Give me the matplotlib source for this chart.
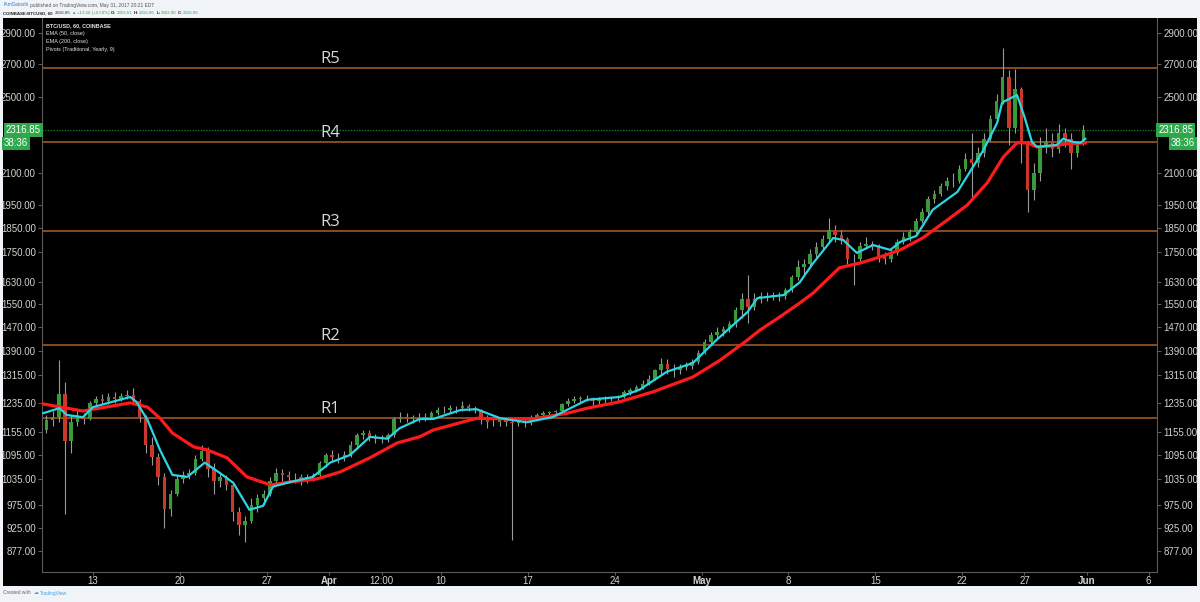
import numpy as np
import pandas as pd
import matplotlib
matplotlib.use("Agg")
import matplotlib.pyplot as plt
import matplotlib.dates as mdates
import matplotlib.ticker as mticker
from matplotlib.patches import Rectangle

plt.rcParams["font.family"] = ["Liberation Sans", "DejaVu Sans"]

# BTC/USD Coinbase, 12h candles, 9 Mar - 31 May 2017
candle_start = "2017-03-09 06:00"
first_open = 1160
highs = [1200, 1210, 1362, 1295, 1200, 1210, 1205, 1240, 1255, 1260,
         1262, 1265, 1262, 1270, 1278, 1245, 1200, 1140, 1100, 1050,
         1010, 1045, 1055, 1060, 1095, 1120, 1115, 1075, 1050, 1045,
         1025, 970, 950, 990, 1000, 1010, 1040, 1062, 1060, 1055,
         1050, 1048, 1048, 1050, 1080, 1100, 1107, 1100, 1105, 1130,
         1150, 1160, 1160, 1148, 1145, 1150, 1195, 1208, 1205, 1200,
         1205, 1205, 1212, 1222, 1225, 1228, 1225, 1238, 1230, 1225,
         1218, 1200, 1195, 1195, 1192, 1190, 1190, 1190, 1200, 1205,
         1210, 1212, 1215, 1235, 1248, 1255, 1255, 1256, 1252, 1250,
         1255, 1255, 1258, 1270, 1278, 1285, 1300, 1315, 1335, 1370,
         1365, 1350, 1350, 1355, 1365, 1395, 1430, 1455, 1470, 1475,
         1490, 1540, 1590, 1660, 1590, 1595, 1595, 1595, 1595, 1610,
         1660, 1717, 1720, 1760, 1790, 1820, 1890, 1860, 1840, 1810,
         1740, 1790, 1810, 1795, 1780, 1750, 1760, 1800, 1830, 1845,
         1890, 1935, 1990, 2020, 2050, 2080, 2100, 2140, 2200, 2300,
         2230, 2300, 2400, 2520, 2800, 2660, 2670, 2560, 2260, 2150,
         2280, 2330, 2300, 2350, 2330, 2300, 2260, 2345]
lows = [1150, 1170, 1180, 955, 1100, 1170, 1175, 1185, 1225, 1230,
        1232, 1235, 1240, 1245, 1235, 1180, 1100, 1070, 1020, 925,
        950, 995, 1025, 1035, 1045, 1080, 1040, 1000, 1015, 1010,
        940, 910, 895, 935, 960, 975, 995, 1025, 1030, 1030,
        1025, 1020, 1025, 1030, 1040, 1065, 1080, 1075, 1080, 1090,
        1110, 1135, 1130, 1125, 1125, 1128, 1140, 1180, 1180, 1178,
        1180, 1183, 1188, 1200, 1205, 1208, 1205, 1212, 1210, 1205,
        1175, 1165, 1170, 1170, 1170, 900, 1170, 1168, 1172, 1190,
        1192, 1195, 1198, 1205, 1225, 1235, 1235, 1238, 1225, 1230,
        1235, 1238, 1240, 1248, 1258, 1265, 1275, 1285, 1300, 1320,
        1320, 1310, 1320, 1330, 1335, 1350, 1380, 1410, 1430, 1440,
        1455, 1470, 1500, 1485, 1530, 1555, 1560, 1565, 1560, 1570,
        1595, 1640, 1660, 1690, 1730, 1760, 1790, 1790, 1780, 1700,
        1620, 1710, 1760, 1755, 1710, 1700, 1710, 1735, 1780, 1795,
        1820, 1870, 1910, 1960, 1990, 2020, 2030, 2050, 2110, 1982,
        2130, 2180, 2260, 2360, 2460, 2240, 2300, 2150, 1917, 1970,
        2060, 2200, 2180, 2200, 2230, 2120, 2180, 2240]
closes = [1185, 1195, 1260, 1130, 1180, 1195, 1190, 1235, 1245, 1240,
          1250, 1245, 1255, 1258, 1240, 1195, 1120, 1090, 1040, 965,
          1000, 1035, 1045, 1050, 1085, 1105, 1060, 1030, 1040, 1020,
          960, 930, 940, 975, 990, 1000, 1030, 1050, 1045, 1040,
          1040, 1035, 1040, 1045, 1075, 1095, 1090, 1090, 1095, 1120,
          1145, 1150, 1140, 1135, 1135, 1145, 1190, 1195, 1190, 1195,
          1190, 1195, 1205, 1215, 1215, 1220, 1220, 1225, 1220, 1215,
          1190, 1180, 1180, 1185, 1180, 1178, 1180, 1178, 1195, 1200,
          1205, 1208, 1210, 1230, 1240, 1245, 1248, 1248, 1240, 1245,
          1248, 1250, 1252, 1265, 1270, 1280, 1290, 1305, 1330, 1350,
          1335, 1330, 1340, 1345, 1355, 1385, 1420, 1445, 1455, 1465,
          1480, 1530, 1570, 1540, 1570, 1580, 1578, 1582, 1580, 1600,
          1650, 1690, 1700, 1740, 1770, 1800, 1840, 1820, 1800, 1720,
          1720, 1775, 1780, 1770, 1730, 1720, 1745, 1790, 1810, 1830,
          1880, 1920, 1975, 2000, 2035, 2060, 2060, 2120, 2170, 2150,
          2200, 2270, 2380, 2480, 2620, 2330, 2550, 2250, 2020, 2100,
          2230, 2260, 2220, 2300, 2270, 2200, 2250, 2316.85]

# EMA lines (days after 9 Mar 2017 00:00, price)
ema50_days = [0.0, 1.3, 1.9, 3.2, 4.0, 7.0, 7.5, 8.4, 9.4, 10.4, 11.6, 13.0,
              14.2, 15.3, 16.6, 17.7, 18.5, 19.9, 21.7, 23.1, 24.7, 26.3,
              27.7, 28.7, 30.3, 31.4, 33.6, 34.9, 36.8, 38.9, 41.0, 43.8,
              46.4, 48.0, 50.2, 52.3, 54.2, 56.7, 57.5, 59.6, 60.9, 62.0,
              63.6, 64.4, 65.5, 66.8, 68.2, 69.0, 70.3, 71.6, 73.6, 74.8,
              75.7, 76.8, 77.2, 77.6, 78.4, 79.0, 79.6, 80.0, 80.8, 81.6,
              82.1, 82.9, 83.5, 83.9]
ema50 = [1205, 1219, 1200, 1194, 1222, 1251, 1237, 1186, 1107, 1045, 1040, 1075,
         1050, 1026, 964, 973, 1017, 1028, 1040, 1075, 1094, 1141,
         1136, 1164, 1189, 1189, 1214, 1216, 1191, 1180, 1194, 1243,
         1251, 1272, 1326, 1353, 1427, 1522, 1572, 1583, 1630, 1705,
         1806, 1798, 1745, 1777, 1757, 1790, 1815, 1927, 2009, 2123,
         2213, 2356, 2470, 2484, 2513, 2389, 2255, 2229, 2234, 2239,
         2271, 2255, 2250, 2271]
ema200_days = [0.0, 3.2, 7.0, 8.4, 9.4, 10.4, 12.1, 13.2, 14.8, 16.4, 18.3,
               19.9, 22.0, 23.9, 26.3, 28.5, 30.3, 31.4, 34.9, 37.6, 39.4,
               42.2, 43.8, 46.4, 49.1, 52.3, 54.5, 56.7, 57.7, 59.3, 60.9,
               62.0, 64.1, 65.8, 67.4, 69.0, 70.8, 72.8, 74.4, 76.0, 77.3,
               78.4, 79.2, 80.0, 81.3, 82.4, 83.9]
ema200 = [1231, 1211, 1234, 1222, 1191, 1151, 1115, 1107, 1087, 1040, 1021,
          1028, 1035, 1052, 1087, 1125, 1141, 1159, 1191, 1189, 1189,
          1205, 1219, 1237, 1266, 1310, 1362, 1427, 1460, 1505, 1554,
          1591, 1686, 1705, 1729, 1757, 1806, 1883, 1949, 2051, 2178,
          2250, 2250, 2229, 2234, 2245, 2250]

# yearly traditional pivots
pivot_names = ["R1", "R2", "R3", "R4", "R5"]
pivot_levels = [1191, 1410, 1834, 2253, 2672]
last_price = 2316.85

y_ticks = [877, 925, 975, 1035, 1095, 1155, 1235, 1315, 1390, 1470, 1550,
           1630, 1750, 1850, 1950, 2100, 2500, 2700, 2900]
x_tick_dates = ["2017-03-13 00:00", "2017-03-20 00:00", "2017-03-27 00:00",
                "2017-04-01 00:00", "2017-04-05 06:00", "2017-04-10 00:00",
                "2017-04-17 00:00", "2017-04-24 00:00", "2017-05-01 00:00",
                "2017-05-08 00:00", "2017-05-15 00:00", "2017-05-22 00:00",
                "2017-05-27 00:00", "2017-06-01 00:00", "2017-06-06 00:00"]
x_tick_labels = ["13", "20", "27", "Apr", "12:00", "10", "17", "24",
                 "May", "8", "15", "22", "27", "Jun", "6"]

W, H = 1200, 602


def px(x, y):
    return x / W, 1 - y / H


def text_run(fig, x, y, pieces, size):
    # write pieces one after another on a line, each starting where the last ended
    s, col, fw, _ = pieces[0]
    prev = fig.text(*px(x, y), s, color=col, fontsize=size, fontweight=fw, va="center")
    for s, col, fw, gap in pieces[1:]:
        prev = fig.axes[0].annotate(s, xy=(1, 0.5), xycoords=prev, xytext=(gap, 0),
                                    textcoords="offset points", va="center",
                                    color=col, fontsize=size, fontweight=fw,
                                    annotation_clip=False)
    return prev


fig = plt.figure(figsize=(W / 100, H / 100), dpi=100)
fig.patch.set_facecolor("#f0f3f7")
fig.add_artist(Rectangle((3 / W, 16 / H), 1194 / W, 568 / H, transform=fig.transFigure,
                         facecolor="black", edgecolor="none", zorder=0))

ax = fig.add_axes([42 / W, 30 / H, 1115 / W, 554 / H])
ax.set_facecolor("black")

base = mdates.date2num(pd.Timestamp("2017-03-09"))
xc = mdates.date2num(pd.date_range(candle_start, periods=len(closes), freq="12h"))
c = np.array(closes, dtype=float)
o = np.r_[first_open, c[:-1]]
up = c >= o

ax.vlines(xc, lows, highs, color="#9a9a9a", lw=0.8, zorder=2)
ax.bar(xc[up], (c - o)[up], bottom=o[up], width=0.28, color="#3a9a3a", zorder=3)
ax.bar(xc[~up], (o - c)[~up], bottom=c[~up], width=0.28, color="#c9382a", zorder=3)

ax.plot(base + np.array(ema200_days), ema200, color="#ff1a1a", lw=2.3, zorder=4)
ax.plot(base + np.array(ema50_days), ema50, color="#2ad6e4", lw=1.6, zorder=5)

for name, lvl in zip(pivot_names, pivot_levels):
    ax.axhline(lvl, color="#9c5a22", lw=1.2, zorder=1)
    ax.text(base + 22.3, lvl * np.exp(5 / 433), name, color="#d8d8d8",
            fontsize=12, family=["Open Sans", "DejaVu Sans"], va="baseline", zorder=6)

ax.axhline(last_price, color="#1f6e2c", lw=1, ls=(0, (1, 1)), zorder=1)

ax.set_yscale("log")
ax.set_ylim(835, 3002)
ax.set_xlim(base - 0.1, base + 89.67)
ax.set_yticks(y_ticks)
ax.yaxis.set_major_formatter(mticker.FuncFormatter(lambda v, p: f"{v:.2f}"))
ax.yaxis.set_minor_locator(mticker.NullLocator())
ax.set_xticks(mdates.date2num(pd.to_datetime(x_tick_dates, format="%Y-%m-%d %H:%M")))
ax.set_xticklabels(x_tick_labels)
for lab in ax.get_xticklabels():
    if lab.get_text() in ("Apr", "May", "Jun"):
        lab.set_fontweight("bold")

ax.tick_params(axis="y", which="both", left=True, right=True, labelleft=True,
               labelright=True, colors="#5a5a5a", labelcolor="#d2d2d2",
               labelsize=7, length=3, pad=1.5)
ax.tick_params(axis="x", colors="#5a5a5a", labelcolor="#d2d2d2",
               labelsize=7, length=2, pad=1)
for side in ("left", "right", "bottom"):
    ax.spines[side].set_color("#5a5a5a")
ax.spines["top"].set_visible(False)

# last price tags
ytr = ax.get_yaxis_transform()
green = "#2ea84a"
for xa, ha in ((-0.001, "right"), (1.001, "left")):
    ax.text(xa, last_price, "2316.85", transform=ytr, ha=ha, va="center",
            color="white", fontsize=7,
            bbox=dict(boxstyle="square,pad=0.18", fc=green, ec="none"))
    ax.annotate("38:36", xy=(xa, last_price), xycoords=ytr,
                xytext=(-26.5 if ha == "right" else 9, -9.5), textcoords="offset points",
                ha="left", va="center", color="white", fontsize=7,
                bbox=dict(boxstyle="square,pad=0.18", fc=green, ec="none"))

# legend block inside the chart
leg_size = 3.9
fig.text(*px(46, 26), "BTC/USD, 60, COINBASE", color="#e6e6e6", fontsize=leg_size,
         fontweight="bold", va="center")
fig.text(*px(46, 34), "EMA (50, close)", color="#e6e6e6", fontsize=leg_size, va="center")
fig.text(*px(46, 41), "EMA (200, close)", color="#e6e6e6", fontsize=leg_size, va="center")
fig.text(*px(46, 49), "Pivots (Traditional, Yearly, 9)", color="#e6e6e6",
         fontsize=leg_size, va="center")

# header, two lines of small coloured runs
dark, up_col = "#222222", "#2ea84a"
text_run(fig, 3, 5, [("IAmSatoshi", "#2f7fd1", "normal", 0),
                     ("published on TradingView.com, May 31, 2017 20:21 EDT",
                      "#555555", "normal", 1.2)], 3.5)
text_run(fig, 3, 13, [("COINBASE:BTCUSD, 60", dark, "bold", 0),
                      ("2316.85", dark, "normal", 1.5),
                      ("\u25b2", up_col, "normal", 0.8),
                      ("+13.56 (+0.59%)", up_col, "normal", 0.8),
                      ("O:", dark, "bold", 1.2), ("2303.61", up_col, "normal", 0.3),
                      ("H:", dark, "bold", 1.2), ("2316.86", up_col, "normal", 0.3),
                      ("L:", dark, "bold", 1.2), ("2302.00", up_col, "normal", 0.3),
                      ("C:", dark, "bold", 1.2), ("2316.85", up_col, "normal", 0.3)], 3.2)

# footer
text_run(fig, 3, 593, [("Created with", "#666666", "normal", 0),
                       ("\u2601", "#4ba3dd", "normal", 2),
                       ("TradingView", "#4ba3dd", "normal", 1.5)], 3.5)

fig.savefig("out.png", dpi=100, facecolor=fig.get_facecolor())
